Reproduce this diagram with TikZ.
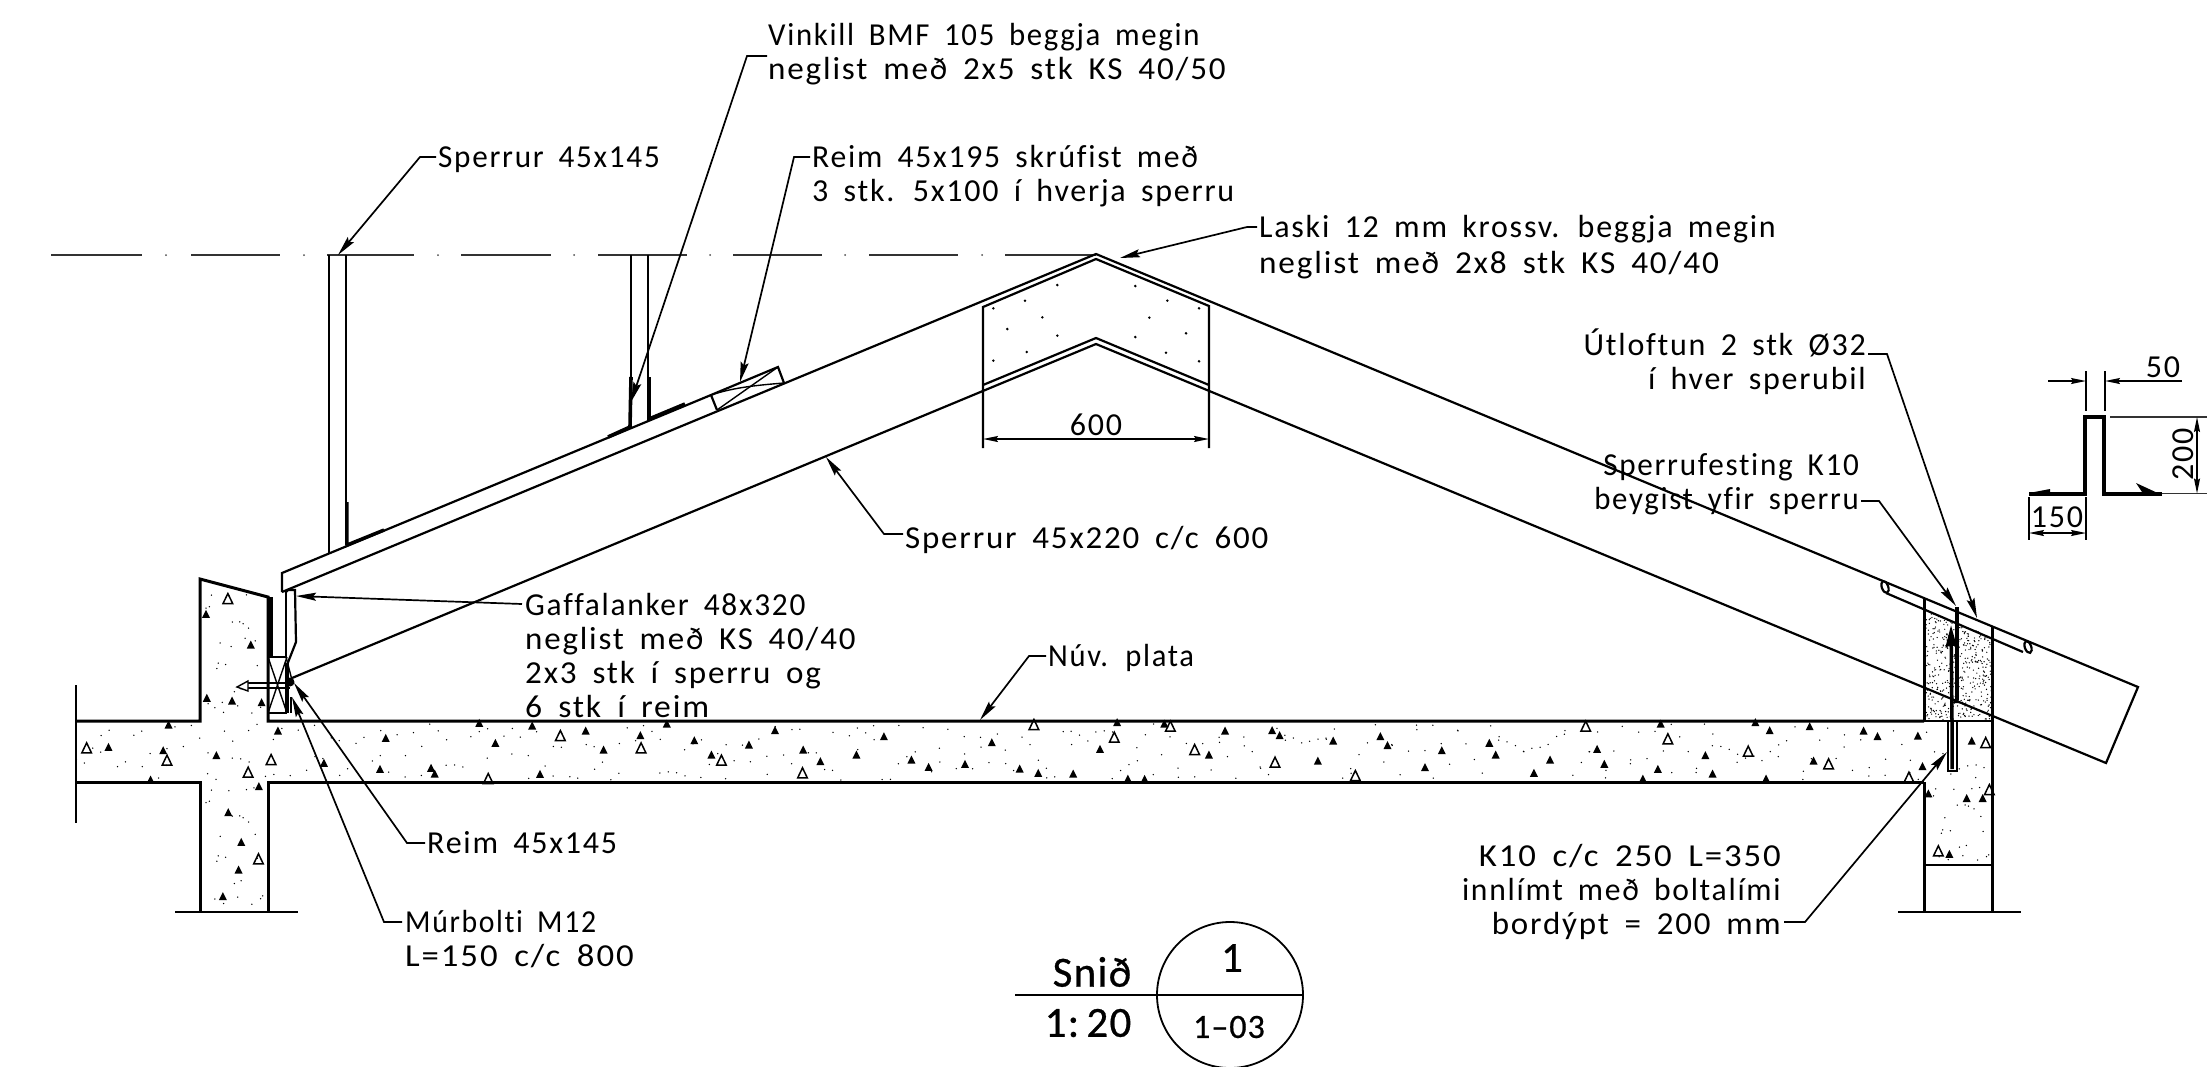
\documentclass[tikz,border=0pt]{standalone}
\usepackage{fontspec}
\usepackage{graphicx}
\usetikzlibrary{arrows.meta}
\newfontfamily\lblf[LetterSpace=5.5,WordSpace=1.7,Ligatures=CommonOff]{Carlito}
\newfontfamily\ttlf[LetterSpace=3,WordSpace=1.5,FakeBold=0.6]{Carlito}
\newcommand\lblfont{\lblf\fontsize{32}{34}\selectfont}
\newcommand\hs[2]{\scalebox{#1}[1]{#2}}
% scatter of fine dots: count, x0, width, y0, height, radius
\newcommand\stipple[6]{\foreach \i in {1,...,#1}{%
  \pgfmathsetmacro\dotx{#2+#3*mod(\i*0.618034,1)}%
  \pgfmathsetmacro\doty{#4+#5*mod(\i*0.7548+(\i*0.1)*(\i*0.137),1)}%
  \fill (\dotx,\doty) circle (#6);}}
\tikzset{
  lab/.style={font=\lblfont,inner sep=0pt,align=left,anchor=north west},
  labr/.style={font=\lblfont,inner sep=0pt,align=right,anchor=north east},
  num/.style={font=\lblfont,inner sep=0pt,anchor=center},
  ttl/.style={inner sep=0pt,anchor=center},
  body/.style={line width=2.2pt,line join=miter},
  heavy/.style={line width=3pt},
  thin line/.style={line width=1.4pt},
  thickbar/.style={line width=4.6pt},
  leader/.style={line width=1.7pt,-{Stealth[length=20pt,width=8pt,inset=3pt]}},
  dimline/.style={line width=1.5pt,{Stealth[length=15pt,width=6pt,inset=2pt]}-{Stealth[length=15pt,width=6pt,inset=2pt]}},
  dimtip/.style={line width=1.5pt,-{Stealth[length=15pt,width=6pt,inset=2pt]}},
}
\begin{document}
\begin{tikzpicture}[x=1pt,y=-1pt]
\useasboundingbox (0,0) rectangle (2211,1066);
\fill[white] (0,0) rectangle (2211,1066);
% stipple
\stipple{300}{76}{1916}{724}{56}{0.75}
\stipple{28}{204}{60}{592}{126}{0.75}
\stipple{24}{204}{60}{787}{122}{0.75}
\stipple{24}{1928}{62}{787}{76}{0.75}
\begin{scope}
\clip (1924,609) -- (1992,637) -- (1992,720) -- (1924,720) -- cycle;
\stipple{520}{1924}{68}{605}{115}{0.7}
\end{scope}
% aggregate
\foreach \X/\Y in {268/85,678/48,530/40,575/100,828/63,981/77,878/120,1055/42,1132/92,1285/105,1358/62,1437/120,1180/135,1485/155,252/178,95/160,395/175,405/192,700/193}
  \fill (290+\X/2.8,710+\Y/3) ++(0,-4.5) -- ++(4,8) -- ++(-8,0) -- cycle;
\foreach \X/\Y in {757/78,983/115,1208/152,1435/190,555/207}
  \draw[line width=1.5pt] (290+\X/2.8,710+\Y/3) ++(0,-5.5) -- ++(4.8,10) -- ++(-9.6,0) -- cycle;
\foreach \X/\Y in {95/80,18/135,172/150,220/172,322/163,397/98,475/177,527/190,625/192,700/118,748/38,880/42,1050/63,1182/62,1203/77,1005/135,1310/153,1353/93,1485/80,1505/107,778/207,825/208}
  \fill (850+\X/2.8,710+\Y/3) ++(0,-4.5) -- ++(4,8) -- ++(-8,0) -- cycle;
\foreach \X/\Y in {515/45,740/83,897/50,965/120,1190/158,1415/198}
  \draw[line width=1.5pt] (850+\X/2.8,710+\Y/3) ++(0,-5.5) -- ++(4.8,10) -- ++(-9.6,0) -- cycle;
\foreach \X/\Y in {117/122,250/100,268/135,420/150,70/173,375/190,552/118,572/163,730/42,722/178,855/137,875/192,1035/62,1147/50,1158/153,1298/63,1337/80,1450/78,1463/170,995/38,680/207,1025/207}
  \fill (1400+\X/2.8,710+\Y/3) ++(0,-4.5) -- ++(4,8) -- ++(-8,0) -- cycle;
\foreach \X/\Y in {520/50,750/88,975/125,1200/163,1425/203}
  \draw[line width=1.5pt] (1400+\X/2.8,710+\Y/3) ++(0,-5.5) -- ++(4.8,10) -- ++(-9.6,0) -- cycle;
\foreach \X/\Y in {362/675,205/742,348/752,460/343,577/435,528/603,605/608,462/595,487/767,598/860,518/938,552/1027,545/1110,504/1190,648/693,315/840}
  \fill (30+\X/2.613,500+\Y/3) ++(0,-4.5) -- ++(4,8) -- ++(-8,0) -- cycle;
\foreach \X/\Y in {517/297,148/745,358/782,630/780,570/818,597/1078}
  \draw[line width=1.5pt] (30+\X/2.613,500+\Y/3) ++(0,-5.5) -- ++(4.8,10) -- ++(-9.6,0) -- cycle;
\foreach \X/\Y in {515/1022,385/1160,500/1172,548/1172,448/1318}
  \fill (1800+\X/3,350+\Y/2.613) ++(0,-4.5) -- ++(4,8) -- ++(-8,0) -- cycle;
\foreach \X/\Y in {557/1027,568/1150,415/1310}
  \draw[line width=1.5pt] (1800+\X/3,350+\Y/2.613) ++(0,-5.5) -- ++(4.8,10) -- ++(-9.6,0) -- cycle;
% gusset dots
\foreach \X/\Y in {130/235,225/212,322/165,277/262,172/297,322/317,230/366,130/392,556/168,652/212,747/235,598/263,708/310,556/321,648/368,747/394}
  \fill (950+\X/3,230+\Y/3) circle (1.4);
% concrete outlines
\draw[heavy] (76,721) -- (200,721) -- (200,579) -- (268,597) -- (268,721) -- (1924,721);
\draw[heavy] (76,782) -- (200,782) -- (200,912);
\draw[heavy] (268,912) -- (268,782) -- (1924,782);
\draw[thin line] (76,685) -- (76,823);
\draw[thin line] (175,912) -- (298,912);
\draw[thin line] (1924,721) -- (1992,721);
\draw[heavy] (1924,599) -- (1924,721);
\draw[heavy] (1924,782) -- (1924,912);
\draw[heavy] (1992,626) -- (1992,912);
\draw[thin line] (1924,865) -- (1992,865);
\draw[thin line] (1898,912) -- (2021,912);
% roof line
\foreach \a/\b in {51/142,191/280,327/414,461/551,598/687,733/822,869/958,1005/1096}
  \draw[line width=2pt,black!80] (\a,255) -- (\b,255);
\foreach \a in {166,304,438,574,710,845,982}
  \fill[black!70] (\a,255) circle (1);
% rafter
\draw[body] (282,592) -- (282,573) -- (711,395) -- (778,367) -- (784,383);
\draw[body] (711,395) -- (717,410);
\draw[thin line] (717,410) -- (778,367);
\draw[thin line] (711,395) .. controls (735,387) and (760,385) .. (784,383);
\draw[body] (282,592) -- (1096,254) -- (2138,687) -- (2106,763) -- (1096,344) -- (292,678);
\draw[body] (983,448) -- (983,307) -- (1096,259) -- (1209,306) -- (1209,448);
\draw[body] (983,385) -- (1096,338) -- (1209,385);
% posts
\draw[thin line] (329,255) -- (329,553);
\draw[thin line] (346,255) -- (346,545);
\draw[line width=3.4pt] (347,502) -- (347,545) -- (384,530);
\draw[thin line] (631,255) -- (631,377);
\draw[thin line] (648,255) -- (648,377);
\draw[line width=3.6pt] (631,377) -- (630,427) -- (608,437);
\draw[line width=3.6pt] (649,377) -- (649,419) -- (685,404);
% anchor at eave
\draw[thickbar] (269,597) -- (269,657);
\draw[thin line] (272,597) -- (272,657);
\draw[body] (286,590) -- (286,657);
\draw[body] (286,592) -- (288,590) -- (295,590) -- (296,642) -- (287,665) -- (287,680);
\draw[thin line] (286,657) -- (292,680);
\draw[body] (268,657) -- (287,657);
\draw[body] (268,713) -- (287,713);
\draw[thin line] (268,657) -- (287,713);
\draw[thin line] (287,657) -- (268,713);
\draw[line width=3.5pt] (287,663) -- (287,713);
\draw[body] (291,697) -- (291,713);
\fill (290,682) circle (4.5);
\draw[thin line] (290,683) -- (247,683);
\draw[thin line] (290,688) -- (247,688);
\draw[thin line,fill=white] (237,687) -- (248,681) -- (248,691) -- cycle;
% vent tube
\draw[body] (1886,593) -- (2023,652);
\draw[body,fill=white] (1885,587) ellipse [x radius=3.2,y radius=6.2,rotate=20];
\draw[body,fill=white] (2028,647) ellipse [x radius=3.2,y radius=6.2,rotate=20];
% rebars
\draw[thin line,fill=white] (1948,721) rectangle (1957,771);
\draw[thickbar] (1957,607) -- (1957,700);
\fill (1952,703) -- (1960,703) -- (1957,698) -- cycle;
\draw[line width=3.5pt,-{Stealth[length=22pt,width=11pt,inset=2pt]}] (1952,769) -- (1952,722) -- (1951,625);
% K10 profile
\draw[line width=4pt] (2029,493.5) -- (2085,493.5) -- (2085,417) -- (2104,417) -- (2104,493.5) -- (2162,493.5);
\fill (2029,493) -- (2050,489) -- (2050,495) -- cycle;
\fill (2162,495) -- (2136,483) -- (2144,495) -- cycle;
\draw[thin line] (2086,371) -- (2086,411);
\draw[thin line] (2105,371) -- (2105,411);
\draw[thin line,black!80] (2110,417) -- (2207,417);
\draw[thin line,black!80] (2162,493.5) -- (2207,493.5);
\draw[thin line] (2029,497) -- (2029,540);
\draw[thin line] (2086,497) -- (2086,540);
\coordinate (dA) at (2048,381); \coordinate (dB) at (2086,381);
\coordinate (dC) at (2182,381); \coordinate (dD) at (2105,381);
\draw[dimtip] (dA) -- (dB);
\draw[dimtip] (dC) -- (dD);
\coordinate (dE) at (2197,417); \coordinate (dF) at (2197,493.5);
\draw[dimline] (dE) -- (dF);
\coordinate (dG) at (2029,533); \coordinate (dH) at (2086,533);
\draw[dimline] (dG) -- (dH);
\coordinate (dI) at (983,439); \coordinate (dJ) at (1209,439);
\draw[dimline] (dI) -- (dJ);
\node[num] (n50) at (2163,367) {50};
\node[num,rotate=90] (n200) at (2183,454) {200};
\node[num] (n150) at (2057,517) {150};
\node[num] (n600) at (1096,425) {600};
% labels
\node[lab] (nVinkill) at (768,21) {\strut\hs{.962}{Vinkill BMF 105 beggja megin}\\\hs{1.035}{neglist með 2x5 stk KS 40/50}};
\node[lab] (nSperrurA) at (438,143) {\strut\hs{.975}{Sperrur 45x145}};
\node[lab] (nReimA) at (812,143) {\strut\hs{.99}{Reim 45x195 skrúfist með}\\3 stk. 5x100 í hverja sperru};
\node[lab] (nLaski) at (1259,213) {\strut Laski 12 mm krossv. beggja megin\\[2pt]\hs{1.04}{neglist með 2x8 stk KS 40/40}};
\node[labr] (nUtl) at (1866,329) {\strut Útloftun 2 stk Ø32\\í hver sperubil};
\node[labr] (nSpf) at (1859,451) {\strut\hs{.973}{Sperrufesting K10}\\\hs{.964}{beygist yfir sperru}};
\node[lab] (nSperrurB) at (905,524) {\strut\hs{1.03}{Sperrur 45x220 c/c 600}};
\node[lab] (nGaff) at (525,591) {\strut\hs{.98}{Gaffalanker 48x320}\\\hs{1.03}{neglist með KS 40/40}\\\hs{1.034}{2x3 stk í sperru og}\\\hs{1.05}{6 stk í reim}};
\node[lab] (nNuv) at (1048,642) {\strut\hs{.955}{Núv. plata}};
\node[lab] (nReimB) at (427,829) {\strut Reim 45x145};
\node[lab] (nMur) at (405,908) {\strut\hs{.93}{Múrbolti M12}\\\hs{1.087}{L=150 c/c 800}};
\node[labr] (nK10) at (1781,842) {\strut\hs{1.086}{K10 c/c 250 L=350}\\\hs{.987}{innlímt með boltalími}\\\hs{1.03}{bordýpt = 200 mm}};
% leaders
\coordinate (eVinkill) at (747,56); \coordinate (tVinkill) at (631,402);
\draw[leader] ([shift={(-1,35)}]nVinkill.north west) -- (eVinkill) -- (tVinkill);
\coordinate (eSperrurA) at (420,157); \coordinate (tSperrurA) at (338,255);
\draw[leader] ([shift={(-2,14)}]nSperrurA.north west) -- (eSperrurA) -- (tSperrurA);
\coordinate (eReimA) at (794,157); \coordinate (tReimA) at (740,382);
\draw[leader] ([shift={(-2,14)}]nReimA.north west) -- (eReimA) -- (tReimA);
\coordinate (eLaski) at (1247,227); \coordinate (tLaski) at (1120,258);
\draw[leader] ([shift={(-2,14)}]nLaski.north west) -- (eLaski) -- (tLaski);
\coordinate (eUtl) at (1887,354); \coordinate (tUtl) at (1977,618);
\draw[leader] ([shift={(2,25)}]nUtl.north east) -- (eUtl) -- (tUtl);
\coordinate (eSpf) at (1879,501); \coordinate (tSpf) at (1956,606);
\draw[leader] ([shift={(2,50)}]nSpf.north east) -- (eSpf) -- (tSpf);
\coordinate (eSperrurB) at (884,534); \coordinate (tSperrurB) at (826,457);
\draw[leader] ([shift={(-2,10)}]nSperrurB.north west) -- (eSperrurB) -- (tSperrurB);
\coordinate (tGaff) at (296,596);
\draw[leader] ([shift={(-3,13)}]nGaff.north west) -- (tGaff);
\coordinate (eNuv) at (1029,656); \coordinate (tNuv) at (980,720);
\draw[leader] ([shift={(-2,14)}]nNuv.north west) -- (eNuv) -- (tNuv);
\coordinate (eReimB) at (407,843); \coordinate (tReimB) at (294,683);
\draw[leader] ([shift={(-2,14)}]nReimB.north west) -- (eReimB) -- (tReimB);
\coordinate (eMur) at (384,922); \coordinate (tMur) at (292,697);
\draw[leader] ([shift={(-3,14)}]nMur.north west) -- (eMur) -- (tMur);
\coordinate (eK10) at (1805,922); \coordinate (tK10) at (1947,752);
\draw[leader] ([shift={(3,80)}]nK10.north east) -- (eK10) -- (tK10);
% title
\node[draw,circle,line width=1.8pt,minimum size=146pt,inner sep=0pt] (nCirc) at (1230,995) {};
\coordinate (tL) at (1015,995);
\draw[line width=2pt] (tL) -- (nCirc.east);
\node[ttl,font=\ttlf\fontsize{43}{48}\selectfont] (nSnid) at (1092,972) {Snið};
\node[ttl,font=\ttlf\fontsize{43}{48}\selectfont] (nScale) at (1088,1023) {1:\,20};
\node[ttl,font=\ttlf\fontsize{43}{48}\selectfont] (nOne) at (1232,958) {1};
\node[ttl,font=\ttlf\fontsize{34}{38}\selectfont] (nSheet) at (1229,1027) {1–03};
\end{tikzpicture}
\end{document}
